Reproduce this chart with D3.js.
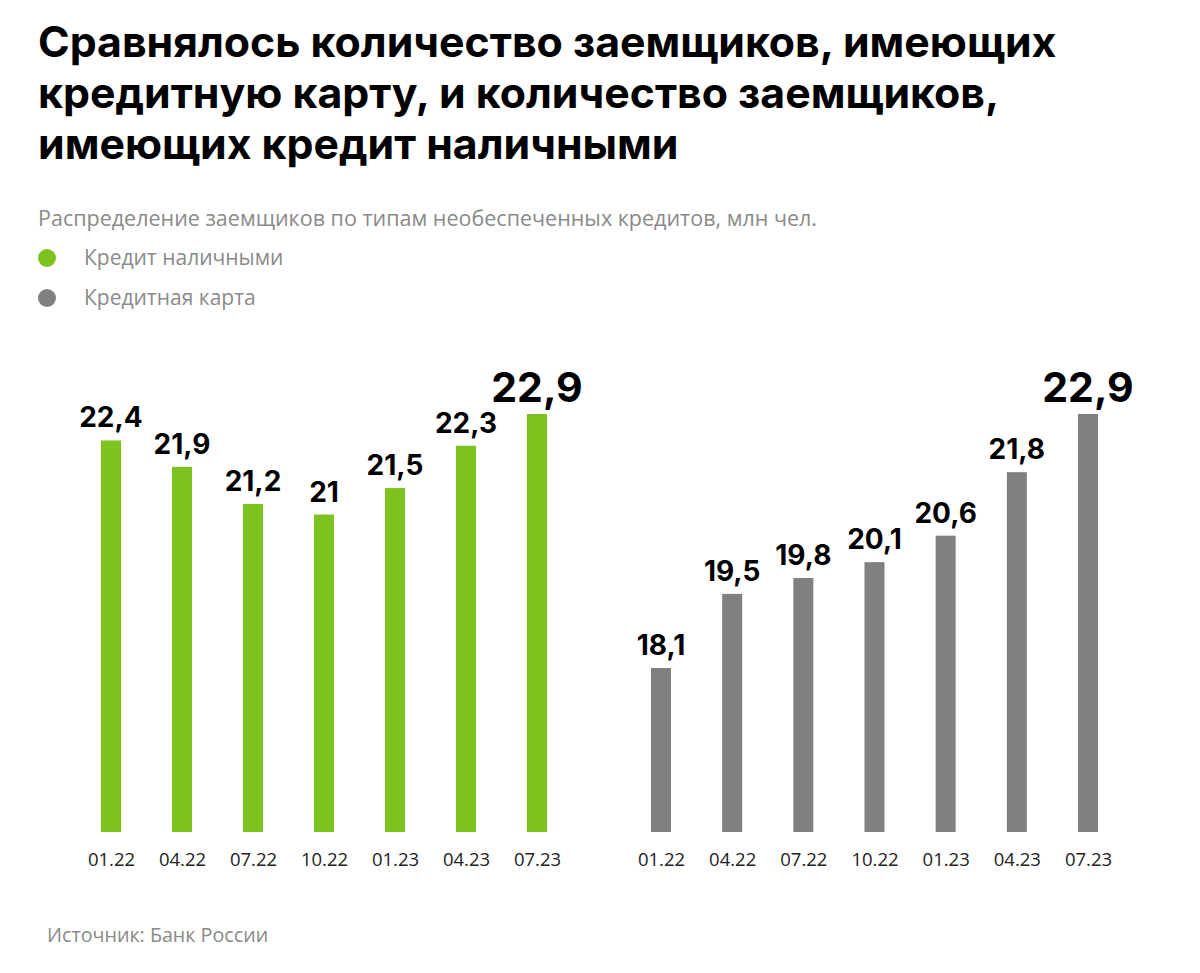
<!DOCTYPE html>
<html><head><meta charset="utf-8">
<script src="https://cdn.jsdelivr.net/npm/d3@7"></script>
<style>
html,body{margin:0;padding:0;background:#fff;}
svg{display:block;}
</style></head>
<body>
<svg id="c" width="1200" height="973"></svg>
<script>
const titleLines = ["Сравнялось количество заемщиков, имеющих","кредитную карту, и количество заемщиков,","имеющих кредит наличными"];
const subtitle = "Распределение заемщиков по типам необеспеченных кредитов, млн чел.";
const seriesNames = ["Кредит наличными","Кредитная карта"];
const seriesColors = ["#7DC31F","#808080"];
const categories = ["01.22","04.22","07.22","10.22","01.23","04.23","07.23"];
const cashLoans = [22.4,21.9,21.2,21.0,21.5,22.3,22.9];
const creditCards = [18.1,19.5,19.8,20.1,20.6,21.8,22.9];
const source = "Источник: Банк России";

const svg = d3.select("#c");
const boldFont = "Inter, Roboto, sans-serif";
const lightFont = "'Open Sans', Roboto, sans-serif";

svg.append("g").selectAll("text").data(titleLines).join("text")
  .attr("x",38).attr("y",(d,i)=>57+i*51)
  .attr("font-family",boldFont).attr("font-weight",700).attr("font-size",42.8)
  .attr("fill","#000").text(d=>d);

svg.append("text").attr("x",38).attr("y",226)
  .attr("font-family",lightFont).attr("font-size",21.5).attr("fill","#8a8a8a").text(subtitle);

const leg = svg.append("g").selectAll("g").data(seriesNames).join("g")
  .attr("transform",(d,i)=>`translate(0,${258+i*40})`);
leg.append("circle").attr("cx",47).attr("cy",0).attr("r",9).attr("fill",(d,i)=>seriesColors[i]);
leg.append("text").attr("x",84).attr("y",7).attr("font-family",lightFont).attr("font-size",21)
  .attr("fill","#8a8a8a").text(d=>d);

const y = d3.scaleLinear().domain([15,22.9]).range([832,414]);
const fmt = v => String(v % 1 === 0 ? v.toFixed(0) : v.toFixed(1)).replace(".",",");

function panel(values, color, x0, x1){
  const x = d3.scalePoint().domain(categories).range([x0,x1]);
  const g = svg.append("g");
  const bw = 20;
  g.selectAll("rect").data(values).join("rect")
    .attr("x",(d,i)=>x(categories[i])-bw/2).attr("width",bw)
    .attr("y",d=>y(d)).attr("height",d=>y.range()[0]-y(d)).attr("fill",color);
  const last = values.length-1;
  g.selectAll("text.v").data(values).join("text").attr("class","v")
    .attr("x",(d,i)=>x(categories[i])).attr("y",(d,i)=>y(d)-(i===last?12:13))
    .attr("text-anchor","middle").attr("font-family",boldFont).attr("font-weight",700)
    .attr("font-size",(d,i)=>i===last?41:28).attr("fill","#000").text(d=>fmt(d));
  const ax = g.append("g").attr("transform",`translate(0,${y.range()[0]})`)
    .call(d3.axisBottom(x).tickSize(0).tickPadding(0));
  ax.select(".domain").remove();
  ax.selectAll("text").attr("dy",null).attr("y",34).attr("font-family",lightFont)
    .attr("font-size",18.5).attr("fill","#222");
}
panel(cashLoans, seriesColors[0], 111, 537);
panel(creditCards, seriesColors[1], 661, 1088);

svg.append("text").attr("x",47).attr("y",942).attr("font-family",lightFont).attr("font-size",19.7)
  .attr("fill","#8a8a8a").text(source);
</script>
</body></html>
